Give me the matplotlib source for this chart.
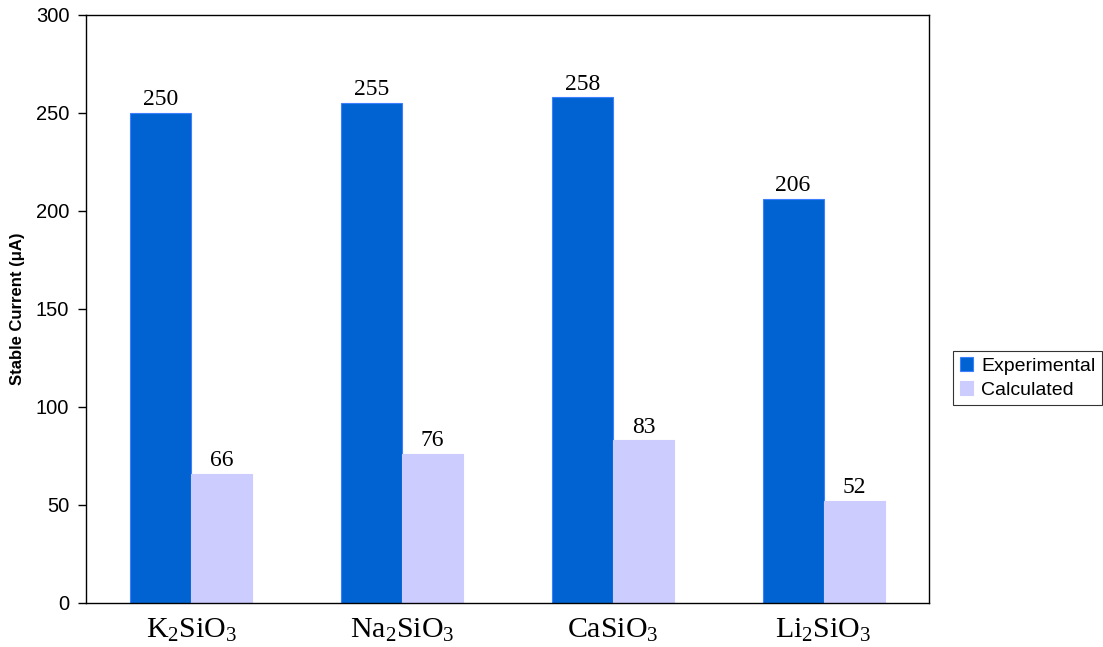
import matplotlib
matplotlib.use('Agg')
import numpy as np
import matplotlib.pyplot as plt

# Data
categories = ['K$_2$SiO$_3$', 'Na$_2$SiO$_3$', 'CaSiO$_3$', 'Li$_2$SiO$_3$']
experimental = [250, 255, 258, 206]
calculated = [66, 76, 83, 52]

plt.rcParams['font.family'] = 'Liberation Sans'
plt.rcParams['mathtext.default'] = 'regular'

fig = plt.figure(figsize=(11.03, 6.47), dpi=100)
ax = fig.add_axes([86 / 1103, 1 - 603 / 647, (929 - 86) / 1103, (603 - 15) / 647])

x = np.arange(len(categories))
w = 0.29
b1 = ax.bar(x - w / 2, experimental, w, color='#0063D1', edgecolor='#3D7FFF',
            linewidth=0.8, label='Experimental')
b2 = ax.bar(x + w / 2, calculated, w, color='#CCCCFF', edgecolor='#CCCCFF',
            linewidth=0.8, label='Calculated')

# value labels above the bars
for bars in (b1, b2):
    for rect in bars:
        ax.annotate(f'{rect.get_height():.0f}',
                    (rect.get_x() + rect.get_width() / 2, rect.get_height()),
                    xytext=(0, 2), textcoords='offset points',
                    ha='center', va='bottom', fontsize=17,
                    family='Liberation Serif')

ax.set_xlim(-0.5, len(categories) - 0.5)
ax.set_ylim(0, 300)
ax.set_yticks(range(0, 301, 50))
ax.tick_params(axis='y', labelsize=14.5, length=6, width=1, pad=6)
ax.tick_params(axis='x', length=0, pad=10)
ax.set_xticks(x)
ax.set_xticklabels(categories, fontsize=21.5, family='Liberation Serif')
ax.set_ylabel('Stable Current (μA)', fontsize=12, fontweight='bold', labelpad=8)

for s in ax.spines.values():
    s.set_linewidth(1)

leg = fig.legend(handles=[b1, b2], loc='center left',
                 bbox_to_anchor=(953 / 1103, 1 - 378 / 647), fontsize=14,
                 frameon=True, fancybox=False, edgecolor='black',
                 handlelength=0.7, handleheight=0.7, handletextpad=0.4,
                 borderpad=0.35, labelspacing=0.3, borderaxespad=0)
leg.get_frame().set_linewidth(0.8)

fig.savefig('out.png', dpi=100)
